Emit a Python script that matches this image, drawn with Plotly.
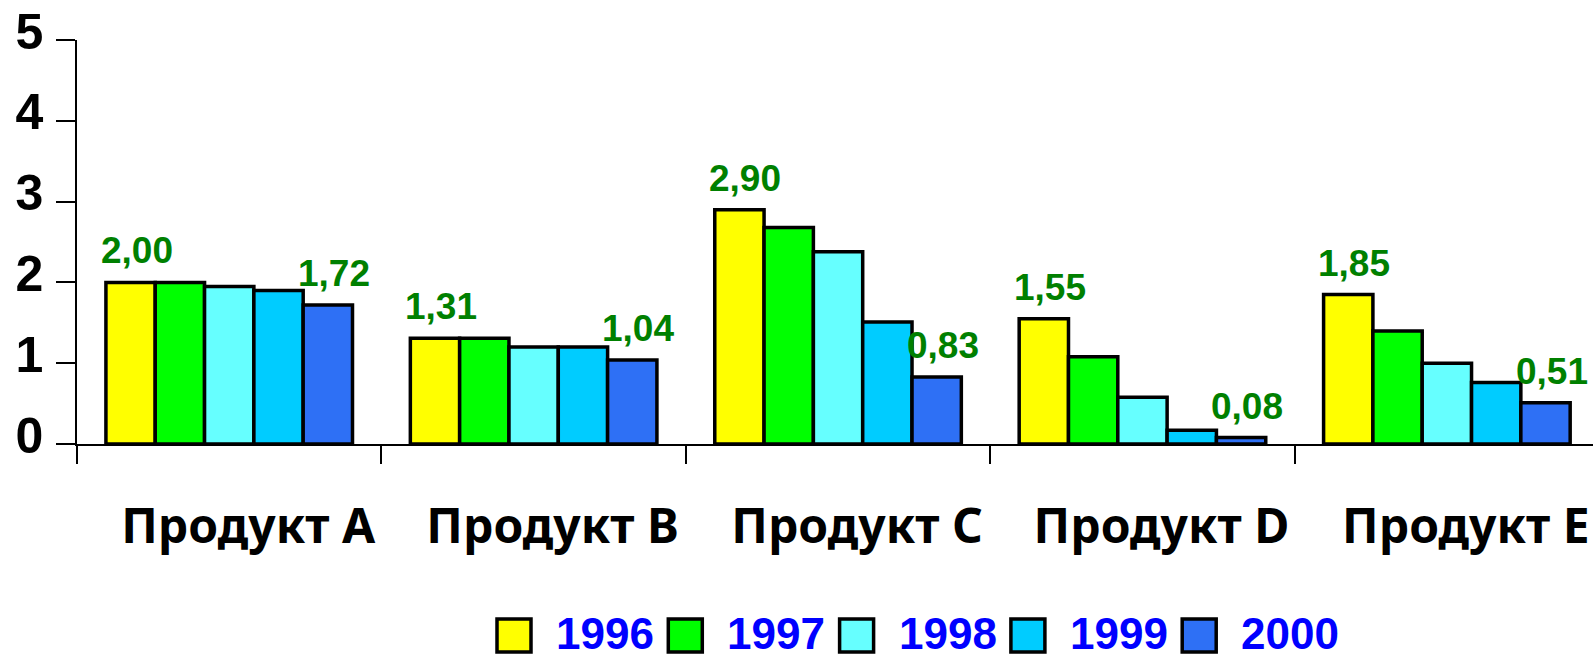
import plotly.graph_objects as go

# Sales by product, 1996-2000
products = ["Продукт A", "Продукт B", "Продукт C", "Продукт D", "Продукт E"]
years = ["1996", "1997", "1998", "1999", "2000"]

v1996 = [2.00, 1.31, 2.90, 1.55, 1.85]
v1997 = [2.00, 1.31, 2.68, 1.08, 1.40]
v1998 = [1.95, 1.20, 2.38, 0.58, 1.00]
v1999 = [1.90, 1.20, 1.51, 0.17, 0.76]
v2000 = [1.72, 1.04, 0.83, 0.08, 0.51]

series = [v1996, v1997, v1998, v1999, v2000]
colors = ["#FFFF00", "#00FF00", "#66FFFF", "#00CCFF", "#2E70F5"]

y_ticks = [0, 1, 2, 3, 4, 5]

W, H = 1593, 658
M_L, M_R, M_T, M_B = 77, 0, 40, 214
BARGAP = 0.19
X_RANGE = [-0.5, 4.48]

fig = go.Figure()
for name, vals, col in zip(years, series, colors):
    fig.add_trace(go.Bar(
        x=products, y=vals, name=name,
        marker=dict(color=col, line=dict(color="black", width=3.5)),
        showlegend=False,
    ))

# value labels over the first and last year of each product
plot_w = W - M_L - M_R
cat_px = plot_w / (X_RANGE[1] - X_RANGE[0])
bar_px = cat_px * (1 - BARGAP) / len(years)
annotations = []
for idx in (0, len(years) - 1):
    offset = (idx - (len(years) - 1) / 2) * bar_px
    for p, v in zip(products, series[idx]):
        annotations.append(dict(
            x=p, y=v, xref="x", yref="y",
            text=f"{v:.2f}".replace(".", ","),
            showarrow=False, xanchor="center", yanchor="bottom",
            xshift=offset + 6, yshift=9,
            font=dict(family="Liberation Sans, Arial", size=37, color="#008000", weight="bold"),
        ))

# legend drawn as boxes + labels under the axis
shapes = []
leg_x0, leg_step, box_w, box_h = 497, 171.3, 34, 33
box_top, box_bot = 619, 652
def px_to_paper_x(px):
    return (px - M_L) / plot_w
def px_to_paper_y(py):
    return (H - M_B - py) / (H - M_T - M_B)
for i, (name, col) in enumerate(zip(years, colors)):
    bx = leg_x0 + i * leg_step
    shapes.append(dict(
        type="rect", xref="paper", yref="paper",
        x0=px_to_paper_x(bx), x1=px_to_paper_x(bx + box_w),
        y0=px_to_paper_y(box_bot), y1=px_to_paper_y(box_top),
        fillcolor=col, line=dict(color="black", width=3.5),
    ))
    annotations.append(dict(
        x=px_to_paper_x(bx + 58), y=px_to_paper_y(633),
        xref="paper", yref="paper", xanchor="left", yanchor="middle",
        text=name, showarrow=False, borderpad=0,
        font=dict(family="Liberation Sans, Arial", size=44, color="#0000FF", weight="bold"),
    ))

fig.update_layout(
    width=W, height=H,
    margin=dict(l=M_L, r=M_R, t=M_T, b=M_B, autoexpand=False),
    paper_bgcolor="white", plot_bgcolor="white",
    barmode="group", bargap=BARGAP, bargroupgap=0,
    annotations=annotations, shapes=shapes,
    xaxis=dict(
        range=X_RANGE, showgrid=False, zeroline=False,
        showline=True, linecolor="black", linewidth=1.5,
        ticks="outside", tickson="boundaries", ticklen=18, tickwidth=1.5, tickcolor="black",
        ticklabelstandoff=40, ticklabelshift=19,
        tickfont=dict(family="Noto Sans", size=48, color="black", weight="bold"),
    ),
    yaxis=dict(
        range=[0, 5], tickvals=y_ticks, ticktext=[str(t) for t in y_ticks],
        showgrid=False, zeroline=False,
        showline=True, linecolor="black", linewidth=1.5,
        ticks="outside", ticklen=19, tickwidth=1.5, tickcolor="black",
        ticklabelstandoff=3, ticklabelshift=-9,
        tickfont=dict(family="Liberation Sans, Arial", size=50, color="black", weight="bold"),
    ),
)

fig.write_html("out.html")
